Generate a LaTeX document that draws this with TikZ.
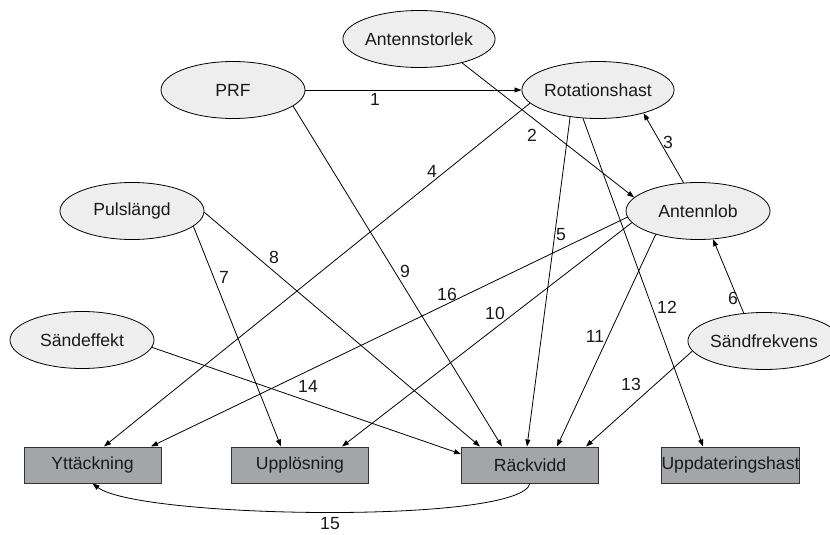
\documentclass[tikz,border=0pt]{standalone}
\usepackage{fontspec}
\setmainfont{Liberation Sans}
\usetikzlibrary{arrows.meta,shapes.geometric}
\definecolor{ovalfill}{HTML}{EEEEEE}
\definecolor{boxfill}{HTML}{A3A5A8}
\definecolor{boxline}{HTML}{333333}
\begin{document}
\begin{tikzpicture}[x=1pt,y=-1pt,
  every node/.style={font=\fontsize{17.6}{20}\selectfont, text=black!90},
  factor/.style={ellipse, draw=black, line width=0.8pt, fill=ovalfill,
    minimum width=144pt, minimum height=57pt, inner sep=0pt},
  outcome/.style={rectangle, draw=boxline, line width=1pt, fill=boxfill,
    minimum width=137pt, minimum height=36pt, inner sep=0pt},
  link/.style={draw=black, line width=0.8pt, -{Triangle[length=7pt,width=5pt]}},
  num/.style={inner sep=0pt}]
\useasboundingbox (0,0) rectangle (830,535);

% influencing factors
\node[factor] (ast)   at (419,39)  {Antennstorlek};
\node[factor] (prf)   at (233,90)  {PRF};
\node[factor] (rot)   at (598,90)  {Rotationshast};
\node[factor] (alob)  at (698,211) {Antennlob};
\node[factor] (puls)  at (132,211) {Pulslängd};
\node[factor] (sande) at (82,340)  {Sändeffekt};
\node[factor] (sfrek) at (764,341) {Sändfrekvens};

% resulting properties
\node[outcome] (ytt)  at (92.5,465) {Yttäckning};
\node[outcome] (upp)  at (300,465)  {Upplösning};
\node[outcome] (rack) at (530,465)  {Räckvidd};
\node[outcome] (uppd) at (730.5,465) {Uppdateringshast};

% dependencies
\draw[link] (prf.east) -- (rot.west);
\draw[link] (ast.-29.3) -- (alob.168.3);
\draw[link] (alob.117.4) -- (rot.-27.6);
\draw[link] (rot.191.3) -- ([xshift=11.5pt]ytt.north);
\draw[link] (rot.-136) -- ([xshift=-3pt]rack.north);
\draw[link] (sfrek.126.9) -- (alob.-62.6);
\draw[link] (puls.-14.5) -- ([xshift=-19pt]upp.north);
\draw[link] (puls.-1.6) -- ([xshift=-50pt]rack.north);
\draw[link] (prf.-15.8) -- ([xshift=-28pt]rack.north);
\draw[link] (alob.-170.7) -- ([xshift=42pt]upp.north);
\draw[link] (alob.-151.4) -- ([xshift=27pt]rack.north);
\draw[link] (rot.-118) -- ([xshift=-27.5pt]uppd.north);
\draw[link] (sfrek.-172.7) -- ([xshift=56pt]rack.north);
\draw[link] (sande.-6.3) -- ([yshift=11pt]rack.west);
\draw[link] (rack.south) .. controls +(-10,41) and +(47,35) .. (ytt.south);
\draw[link] (alob.-175.9) -- ([xshift=58.5pt]ytt.north);

% edge numbers
\node[num] (n1)  at (375,99)  {1};
\node[num] (n2)  at (532,135) {2};
\node[num] (n3)  at (668,142) {3};
\node[num] (n4)  at (432,171) {4};
\node[num] (n5)  at (561,235) {5};
\node[num] (n6)  at (733,298) {6};
\node[num] (n7)  at (224,277) {7};
\node[num] (n8)  at (274,257) {8};
\node[num] (n9)  at (405,271) {9};
\node[num] (n10) at (495,313) {10};
\node[num] (n11) at (595,336) {11};
\node[num] (n12) at (667,307) {12};
\node[num] (n13) at (631,384) {13};
\node[num] (n14) at (308,386) {14};
\node[num] (n15) at (330,524) {15};
\node[num] (n16) at (447,294) {16};
\end{tikzpicture}
\end{document}
